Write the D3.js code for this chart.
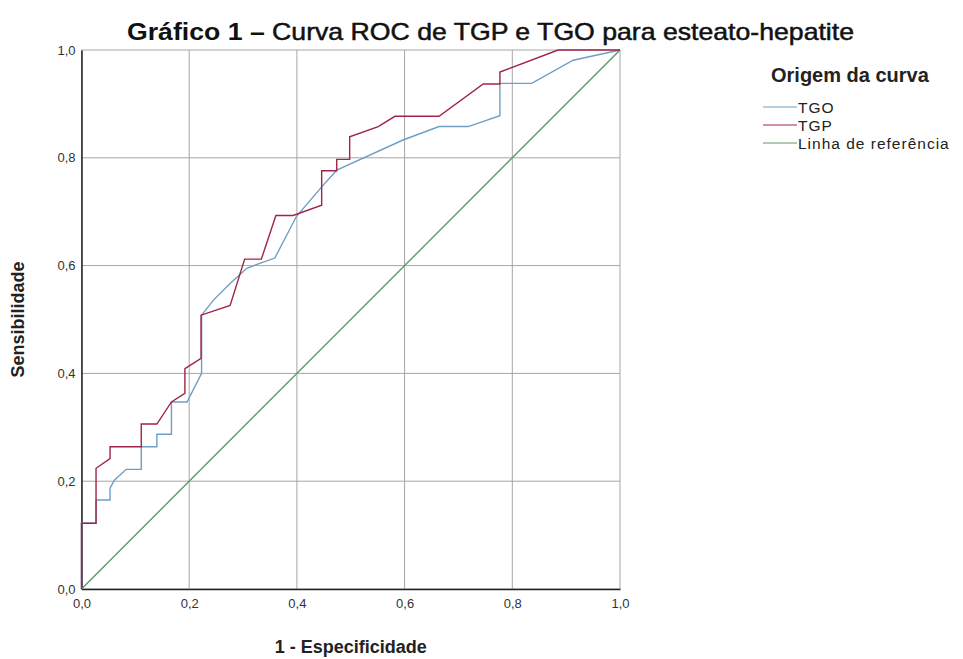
<!DOCTYPE html>
<html>
<head>
<meta charset="utf-8">
<script src="https://cdn.jsdelivr.net/npm/d3@7"></script>
<style>
  body { margin: 0; background: #fff; }
  svg { display: block; font-family: 'Liberation Sans', Arial, sans-serif; }
</style>
</head>
<body>
<div id="wrapper"></div>
<script>
// ROC points (1 - especificidade, sensibilidade)
const tgpFpr = [0, 0, 0.027, 0.027, 0.053, 0.053, 0.111, 0.111, 0.14, 0.167, 0.192, 0.192, 0.222, 0.222, 0.276, 0.303, 0.334, 0.361, 0.393, 0.446, 0.446, 0.474, 0.474, 0.498, 0.498, 0.551, 0.582, 0.664, 0.746, 0.777, 0.777, 0.885, 1]
const tgpTpr = [0, 0.122, 0.122, 0.224, 0.242, 0.264, 0.264, 0.306, 0.306, 0.347, 0.363, 0.409, 0.428, 0.508, 0.526, 0.612, 0.612, 0.693, 0.693, 0.712, 0.776, 0.776, 0.797, 0.797, 0.839, 0.858, 0.877, 0.877, 0.937, 0.937, 0.959, 1, 1]

const tgoFpr = [0, 0, 0.027, 0.027, 0.053, 0.053, 0.061, 0.083, 0.111, 0.111, 0.14, 0.14, 0.167, 0.167, 0.196, 0.223, 0.223, 0.245, 0.276, 0.307, 0.331, 0.359, 0.399, 0.446, 0.474, 0.597, 0.664, 0.718, 0.777, 0.777, 0.836, 0.913, 1]
const tgoTpr = [0, 0.122, 0.122, 0.165, 0.165, 0.187, 0.202, 0.222, 0.222, 0.264, 0.264, 0.287, 0.287, 0.347, 0.347, 0.4, 0.508, 0.536, 0.567, 0.595, 0.604, 0.614, 0.691, 0.746, 0.777, 0.833, 0.858, 0.858, 0.878, 0.938, 0.938, 0.981, 1]

const refFpr = [0, 1]
const refTpr = [0, 1]

const tickValues = [0, 0.2, 0.4, 0.6, 0.8, 1.0]
const seriesNames = ['TGO', 'TGP', 'Linha de referência']
const seriesColors = ['#6f9ec3', '#a02448', '#5f9a6c']

const width = 963
const height = 659
const plot = { left: 81.5, right: 620, top: 50, bottom: 589 }

const svg = d3.select('#wrapper').append('svg')
  .attr('width', width)
  .attr('height', height)

const xScale = d3.scaleLinear().domain([0, 1]).range([plot.left, plot.right])
const yScale = d3.scaleLinear().domain([0, 1]).range([plot.bottom, plot.top])
const fmt = (d) => d3.format('.1f')(d).replace('.', ',')

// grid
const grid = svg.append('g').attr('class', 'grid')
grid.selectAll('.gx').data(tickValues).enter().append('line')
  .attr('x1', (d) => xScale(d)).attr('x2', (d) => xScale(d))
  .attr('y1', plot.top).attr('y2', plot.bottom)
  .attr('stroke', '#a6a6a6').attr('stroke-width', 1)
grid.selectAll('.gy').data(tickValues).enter().append('line')
  .attr('y1', (d) => yScale(d)).attr('y2', (d) => yScale(d))
  .attr('x1', plot.left).attr('x2', plot.right)
  .attr('stroke', '#a6a6a6').attr('stroke-width', 1)

// axes
const xAxis = svg.append('g')
  .attr('transform', `translate(0, ${plot.bottom})`)
  .call(d3.axisBottom(xScale).tickValues(tickValues).tickFormat(fmt).tickSize(0).tickPadding(10))
xAxis.select('.domain').attr('stroke', '#222').attr('stroke-width', 1.5)
xAxis.selectAll('text').attr('font-size', 13).attr('fill', '#333')

const yAxis = svg.append('g')
  .attr('transform', `translate(${plot.left}, 0)`)
  .call(d3.axisLeft(yScale).tickValues(tickValues).tickFormat(fmt).tickSize(0).tickPadding(6))
yAxis.select('.domain').attr('stroke', '#222').attr('stroke-width', 1.5)
yAxis.selectAll('text').attr('font-size', 13).attr('fill', '#333')

// curves
const line = d3.line().x((d) => xScale(d[0])).y((d) => yScale(d[1]))
const series = [
  d3.zip(tgoFpr, tgoTpr),
  d3.zip(tgpFpr, tgpTpr),
  d3.zip(refFpr, refTpr),
]
svg.append('g').selectAll('path').data([series[2], series[0], series[1]]).enter()
  .append('path')
  .attr('fill', 'none')
  .attr('stroke', (d, i) => [seriesColors[2], seriesColors[0], seriesColors[1]][i])
  .attr('stroke-width', 1.4)
  .attr('d', line)

// title (condensed look: squeezed into the width of the original)
svg.append('text')
  .attr('x', 127).attr('y', 40)
  .attr('font-size', 24)
  .attr('fill', '#111')
  .attr('textLength', 727)
  .attr('lengthAdjust', 'spacingAndGlyphs')
  .call((t) => {
    t.append('tspan').attr('font-weight', 'bold').text('Gráfico 1 – ')
    t.append('tspan').attr('stroke', '#111').attr('stroke-width', 0.5)
      .text('Curva ROC de TGP e TGO para esteato-hepatite')
  })

// axis titles
svg.append('text')
  .attr('x', (plot.left + plot.right) / 2).attr('y', 653)
  .attr('text-anchor', 'middle')
  .attr('font-size', 18).attr('font-weight', 'bold').attr('fill', '#222')
  .text('1 - Especificidade')

svg.append('text')
  .attr('transform', `translate(24, ${(plot.top + plot.bottom) / 2}) rotate(-90)`)
  .attr('text-anchor', 'middle')
  .attr('font-size', 18).attr('font-weight', 'bold').attr('fill', '#222')
  .text('Sensibilidade')

// legend
const legend = svg.append('g').attr('transform', 'translate(763, 0)')
legend.append('text')
  .attr('x', 8).attr('y', 82)
  .attr('font-size', 20).attr('font-weight', 'bold').attr('fill', '#222')
  .text('Origem da curva')
const items = legend.selectAll('.item').data(seriesNames).enter().append('g')
  .attr('transform', (d, i) => `translate(0, ${107 + i * 18})`)
items.append('line')
  .attr('x1', 0).attr('x2', 34).attr('y1', 0).attr('y2', 0)
  .attr('stroke', (d, i) => seriesColors[i]).attr('stroke-width', 1.2)
items.append('text')
  .attr('x', 35).attr('y', 5.5)
  .attr('font-size', 15.5).attr('letter-spacing', 1).attr('fill', '#222')
  .text((d) => d)
</script>
</body>
</html>
